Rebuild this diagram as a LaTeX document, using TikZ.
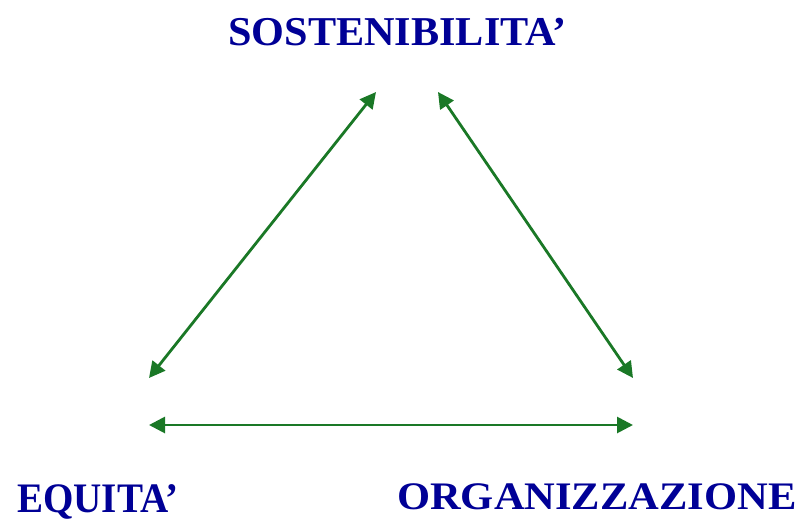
\documentclass[tikz,border=0pt]{standalone}
\usepackage{fontspec}
\setmainfont{Liberation Serif}
\usetikzlibrary{arrows.meta}
\definecolor{arrgreen}{RGB}{26,120,38}
\definecolor{txtblue}{RGB}{0,0,150}
\begin{document}
\begin{tikzpicture}[x=1pt,y=-1pt,
  lbl/.style={text=txtblue,font=\bfseries,inner sep=0pt,anchor=base west},
  link/.style={draw=arrgreen,line width=2.8pt,{Triangle[length=16pt,width=16pt]}-{Triangle[length=16pt,width=16pt]}}]
\useasboundingbox (0,0) rectangle (803,520);
\node[lbl,font=\bfseries\fontsize{41}{41}\selectfont,xscale=1.03] (sost) at (228,45) {SOSTENIBILITA’};
\node[lbl,font=\bfseries\fontsize{42}{42}\selectfont,xscale=0.93] (equi) at (17,512) {EQUITA’};
\node[lbl,font=\bfseries\fontsize{39}{39}\selectfont,xscale=1.09] (orga) at (397,509) {ORGANIZZAZIONE};
\coordinate (tl) at (376,92);
\coordinate (tr) at (438,92);
\coordinate (bl1) at (149,378);
\coordinate (br1) at (633,378);
\coordinate (bl2) at (149,425);
\coordinate (br2) at (633,425);
\draw[link] (bl1) -- (tl);
\draw[link] (tr) -- (br1);
\draw[link] (bl2) -- (br2);
\end{tikzpicture}
\end{document}
